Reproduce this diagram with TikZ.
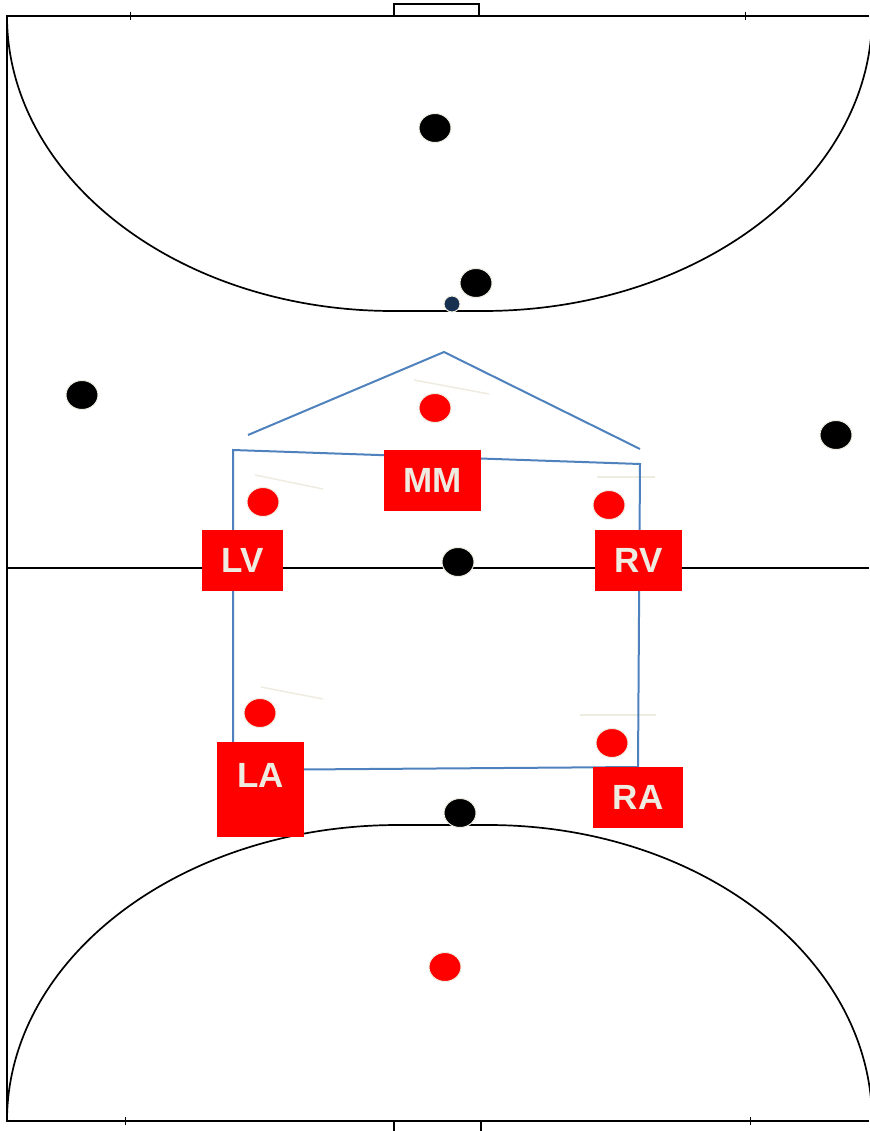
\documentclass[tikz,border=0pt]{standalone}
\usepackage{fontspec}
\setmainfont{Liberation Sans}
\usepackage{tikz}
\usetikzlibrary{shapes.geometric}

\definecolor{cream}{HTML}{EEECE1}
\definecolor{offblue}{HTML}{4F81BD}
\definecolor{navy}{HTML}{17304F}

\tikzset{
	blackdot/.style={ellipse,fill=black,draw=cream,line width=1pt,minimum width=32pt,minimum height=29pt,inner sep=0pt},
	reddot/.style={ellipse,fill=red,draw=cream,line width=1pt,minimum width=32pt,minimum height=29pt,inner sep=0pt},
	posbox/.style={fill=red,text=cream,inner sep=4pt,font=\fontsize{35}{40}\selectfont\bfseries},
	hint/.style={cream,line width=1.5pt}
}

\begin{document}
\begin{tikzpicture}[x=1pt,y=-1pt]
			\useasboundingbox (0,0) rectangle (869,1131);
			% court
			\draw[line width=2.3pt] (869,16) -- (7,16) -- (7,1121) -- (869,1121);
			\draw[line width=1.7pt] (7,568) -- (869,568);
			\draw[line width=1.6pt] (394,16) -- (394,4) -- (479,4) -- (479,16);
			\draw[line width=1.6pt] (394,1131) -- (394,1121) (481,1121) -- (481,1131);
			\foreach \x in {130,745}{
				\draw[line width=1pt] (\x,12) -- (\x,20);
			}
			\foreach \x in {125,750}{
				\draw[line width=1pt] (\x,1117) -- (\x,1125);
			}
			\draw[line width=1.7pt] (7,16) arc[start angle=180,end angle=90,x radius=386,y radius=295]
				-- (483,311) arc[start angle=90,end angle=0,x radius=389,y radius=295];
			\draw[line width=1.7pt] (7,1121) arc[start angle=180,end angle=270,x radius=391,y radius=296]
				-- (488,825) arc[start angle=270,end angle=360,x radius=384,y radius=296];
			% faint runs
			\draw[hint] (414,380) -- (489,394);
			\draw[hint] (255,475) -- (323,489);
			\draw[hint] (597,477) -- (655,477);
			\draw[hint] (261,687) -- (323,699);
			\draw[hint] (580,715) -- (656,715);
			% formation
			\draw[offblue,line width=2pt] (248,435) -- (444,352) -- (640,449);
			\draw[offblue,line width=2pt] (233,450) -- (640,464) -- (638,767) -- (233,770) -- cycle;
			% players
			\foreach \n/\x/\y in {g1/435/128,p1/476/283,p2/82/395,p3/836/435,p4/458/562,p5/460/813}{
				\node[blackdot] (\n) at (\x,\y) {};
			}
			\node[circle,fill=navy,draw=cream,line width=1pt,minimum size=16pt,inner sep=0pt] (ball) at (452,304) {};
			\foreach \n/\x/\y in {rmm/435/408,rlv/263/502,rrv/609/505,rla/260/713,rra/612/743,rg/445/967}{
				\node[reddot] (\n) at (\x,\y) {};
			}
			\node[posbox,minimum width=97pt,minimum height=61pt] (mm) at (432.5,480.5) {MM};
			\node[posbox,minimum width=81pt,minimum height=61pt] (lv) at (242.5,560.5) {LV};
			\node[posbox,minimum width=87pt,minimum height=61pt] (rv) at (638.5,560.5) {RV};
			\node[posbox,minimum width=87pt,anchor=north,text height=41pt,text depth=46pt] (la) at (260.5,742) {LA};
			\node[posbox,minimum width=90pt,minimum height=61pt] (ra) at (638,797.5) {RA};
		\end{tikzpicture}
\end{document}
